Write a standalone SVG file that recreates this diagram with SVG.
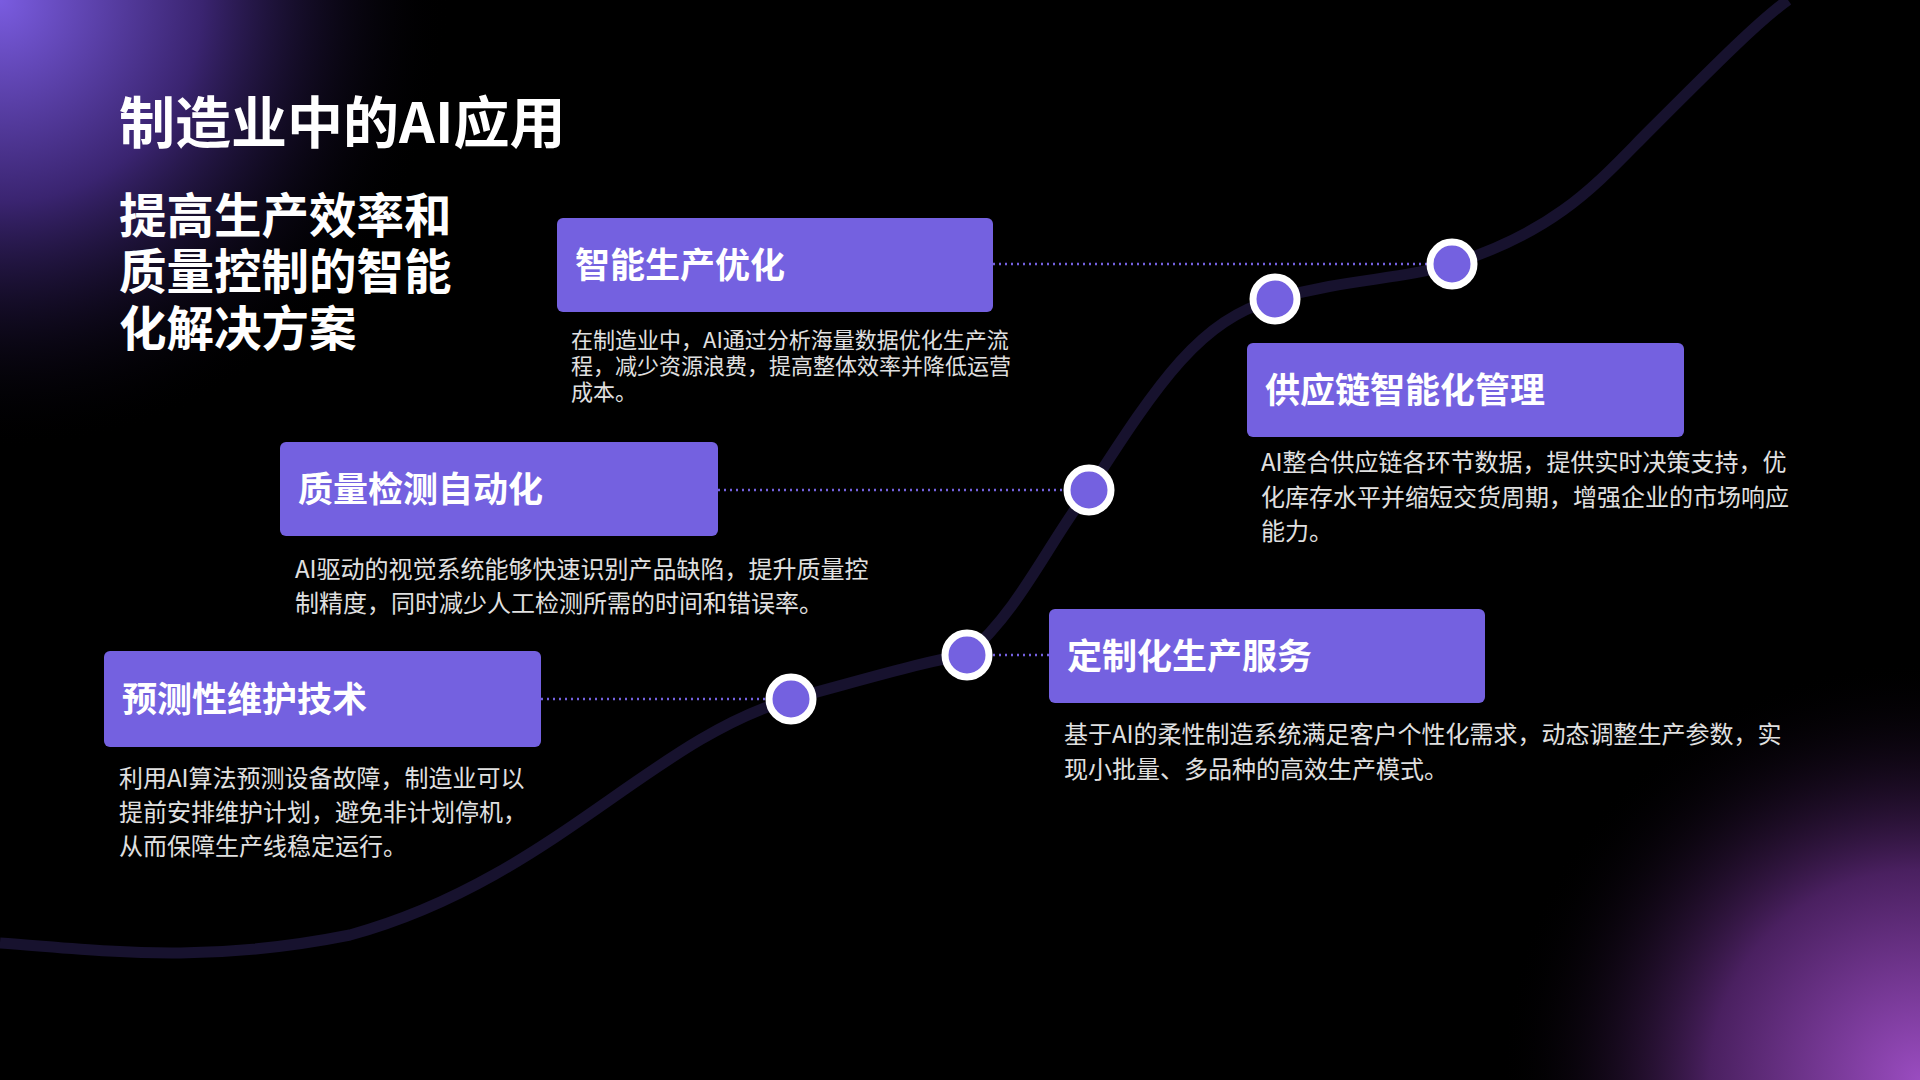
<svg xmlns="http://www.w3.org/2000/svg" width="1920" height="1080" viewBox="0 0 1920 1080">
<defs>
<radialGradient id="g1" cx="0" cy="0" r="450" gradientUnits="userSpaceOnUse"><stop offset="0" stop-color="#7a5ce0"/><stop offset="0.45" stop-color="#3a2470"/><stop offset="1" stop-color="#000" stop-opacity="0"/></radialGradient>
<radialGradient id="g2" cx="1920" cy="1080" r="420" gradientUnits="userSpaceOnUse"><stop offset="0" stop-color="#9a4cc0"/><stop offset="0.5" stop-color="#4a2060"/><stop offset="1" stop-color="#000" stop-opacity="0"/></radialGradient>
<style>
.box{fill:#7461e0}
.bt{font-family:"Noto Sans CJK SC",sans-serif;font-weight:700;font-size:35px;fill:#fff}
.d{font-family:"Noto Sans CJK SC",sans-serif;font-size:24px;fill:#e0e0e0}
.d1{font-family:"Noto Sans CJK SC",sans-serif;font-size:22px;fill:#e0e0e0}
.c{stroke:#7461e0;stroke-width:2.5;stroke-dasharray:2 4;fill:none}
</style>
</defs>
<rect width="1920" height="1080" fill="#000"/>
<rect width="1920" height="1080" fill="url(#g1)"/>
<rect width="1920" height="1080" fill="url(#g2)"/>
<path d="M0,943 C100,950 200,965 350,935 C550,880 650,740 791,699 C880,675 930,660 967,655 C1020,610 1050,540 1089,490 C1160,380 1200,320 1275,299 C1350,278 1400,280 1452,264 C1560,230 1600,180 1650,130 C1720,60 1760,20 1788,0" fill="none" stroke="#17122e" stroke-width="11"/>
<text x="119" y="143" font-family="Noto Sans CJK SC,sans-serif" font-weight="700" font-size="56" fill="#fff">制造业中的AI应用</text>
<g font-family="Noto Sans CJK SC,sans-serif" font-weight="700" font-size="47.5" fill="#fff">
<text x="119" y="233">提高生产效率和</text><text x="119" y="289">质量控制的智能</text><text x="119" y="346">化解决方案</text></g>
<g id="connectors">
<line class="c" x1="993" y1="264" x2="1428" y2="264"/>
<line class="c" x1="718" y1="490" x2="1065" y2="490"/>
<line class="c" x1="541" y1="699" x2="767" y2="699"/>
<line class="c" x1="1049" y1="655" x2="991" y2="655"/>
</g>
<g id="dots" fill="#7461e0" stroke="#fff" stroke-width="7">
<circle cx="1452" cy="264" r="22"/><circle cx="1275" cy="299" r="22"/><circle cx="1089" cy="490" r="22"/><circle cx="967" cy="655" r="22"/><circle cx="791" cy="699" r="22"/>
</g>
<g id="n1"><rect class="box" x="557" y="218" width="436" height="94" rx="6"/><text class="bt" x="575" y="278">智能生产优化</text>
<text class="d1" x="571" y="348">在制造业中，AI通过分析海量数据优化生产流</text><text class="d1" x="571" y="374">程，减少资源浪费，提高整体效率并降低运营</text><text class="d1" x="571" y="400">成本。</text></g>
<g id="n2"><rect class="box" x="280" y="442" width="438" height="94" rx="6"/><text class="bt" x="298" y="502">质量检测自动化</text>
<text class="d" x="295" y="578">AI驱动的视觉系统能够快速识别产品缺陷，提升质量控</text><text class="d" x="295" y="612">制精度，同时减少人工检测所需的时间和错误率。</text></g>
<g id="n3"><rect class="box" x="104" y="651" width="437" height="96" rx="6"/><text class="bt" x="122" y="712">预测性维护技术</text>
<text class="d" x="119" y="787">利用AI算法预测设备故障，制造业可以</text><text class="d" x="119" y="821">提前安排维护计划，避免非计划停机，</text><text class="d" x="119" y="855">从而保障生产线稳定运行。</text></g>
<g id="n4"><rect class="box" x="1049" y="609" width="436" height="94" rx="6"/><text class="bt" x="1067" y="669">定制化生产服务</text>
<text class="d" x="1064" y="743">基于AI的柔性制造系统满足客户个性化需求，动态调整生产参数，实</text><text class="d" x="1064" y="778">现小批量、多品种的高效生产模式。</text></g>
<g id="n5"><rect class="box" x="1247" y="343" width="437" height="94" rx="6"/><text class="bt" x="1265" y="403">供应链智能化管理</text>
<text class="d" x="1261" y="471">AI整合供应链各环节数据，提供实时决策支持，优</text><text class="d" x="1261" y="506">化库存水平并缩短交货周期，增强企业的市场响应</text><text class="d" x="1261" y="540">能力。</text></g>
</svg>
